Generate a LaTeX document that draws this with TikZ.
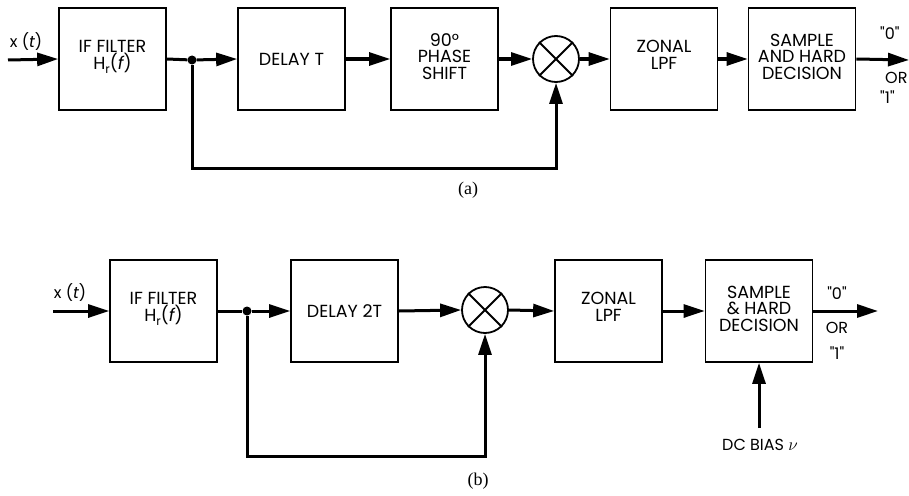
\documentclass[tikz,border=0pt]{standalone}
\usepackage{fontspec}
\newfontfamily\gfont{Poppins}
\newfontfamily\sfont{Liberation Serif}
\usetikzlibrary{arrows.meta}
\newcommand{\hrf}{H\raisebox{-4pt}{\fontsize{12}{12}\selectfont r}({\itshape f})}
\begin{document}
\begin{tikzpicture}[x=1pt,y=-1pt,
  blk/.style={draw,line width=1.7pt,minimum width=107pt,minimum height=102pt,align=center,
    font=\gfont\fontsize{17.5}{16.5}\selectfont,inner sep=0pt},
  sig/.style={line width=3pt,-{Triangle[length=21pt,width=13pt]}},
  wire/.style={line width=3pt},
  mult/.style={draw,circle,line width=1.8pt,minimum size=46pt,inner sep=0pt},
  lab/.style={font=\gfont\fontsize{16}{18}\selectfont,inner sep=0pt},
  captxt/.style={font=\sfont\fontsize{18}{20}\selectfont,inner sep=0pt},
  dot/.style={circle,fill,inner sep=0pt,minimum size=9pt}]
\useasboundingbox (0,0) rectangle (909,495);
% ---------- (a) ----------
\coordinate (ain) at (8,60);
\node[blk] (aif) at (112.5,59) {IF FILTER\\\hrf\\[-8pt]};
\node[dot] (aj) at (192,60) {};
\node[blk] (adl) at (291.5,59) {DELAY T};
\node[blk] (aph) at (444.5,59) {90°\\PHASE\\SHIFT\\[-11pt]};
\node[mult] (am) at (556,59) {};
\draw[line width=1.8pt] (am.45) -- (am.225) (am.135) -- (am.315);
\node[blk] (alp) at (664,59) {ZONAL\\LPF\\[-8pt]};
\node[blk] (asm) at (802,59) {SAMPLE\\AND HARD\\DECISION\\[-12pt]};
\coordinate (aout) at (909,60);
\coordinate (afb) at (556,168);
\node[lab] (ax) at (26,42) {x ({\itshape t})};
\node[lab,anchor=west] (a0) at (880,33) {"0"};
\node[lab,anchor=west] (aor) at (885,78) {OR};
\node[lab,anchor=west] (a1) at (880,97) {"1"};
\node[captxt] (acap) at (468,190) {(a)};
\draw[sig] (ain) -- (aif.west);
\draw[wire] (aif.east) -- (aj);
\draw[sig] (aj) -- (adl.west);
\draw[sig] (adl.east) -- (aph.west);
\draw[sig] (aph.east) -- (am.west);
\draw[sig] (am.east) -- (alp.west);
\draw[sig] (alp.east) -- (asm.west);
\draw[sig] (asm.east) -- (aout);
\draw[sig] (aj) |- (afb) -- (am.south);
% ---------- (b) ----------
\coordinate (bin) at (53,311);
\node[blk] (bif) at (163.5,311) {IF FILTER\\\hrf\\[-8pt]};
\node[dot] (bj) at (247,311) {};
\node[blk] (bdl) at (344.5,311) {DELAY 2T};
\node[mult] (bm) at (485,310) {};
\draw[line width=1.8pt] (bm.45) -- (bm.225) (bm.135) -- (bm.315);
\node[blk] (blp) at (608.5,311) {ZONAL\\LPF\\[-8pt]};
\node[blk] (bsm) at (759,311) {SAMPLE\\\& HARD\\DECISION\\[-12pt]};
\coordinate (bout) at (878,311);
\coordinate (bfb) at (485,456);
\coordinate (bdc) at (759,428);
\node[lab] (bx) at (70,293) {x ({\itshape t})};
\node[lab] (b0) at (837,293) {"0"};
\node[lab] (bor) at (837,328) {OR};
\node[lab] (b1) at (837,353) {"1"};
\node[lab] (bbias) at (760,445) {DC BIAS $\nu$};
\node[captxt] (bcap) at (478,481) {(b)};
\draw[sig] (bin) -- (bif.west);
\draw[wire] (bif.east) -- (bj);
\draw[sig] (bj) -- (bdl.west);
\draw[sig] (bdl.east) -- (bm.west);
\draw[sig] (bm.east) -- (blp.west);
\draw[sig] (blp.east) -- (bsm.west);
\draw[sig] (bsm.east) -- (bout);
\draw[sig] (bj) |- (bfb) -- (bm.south);
\draw[sig] (bdc) -- (bsm.south);
\end{tikzpicture}
\end{document}
